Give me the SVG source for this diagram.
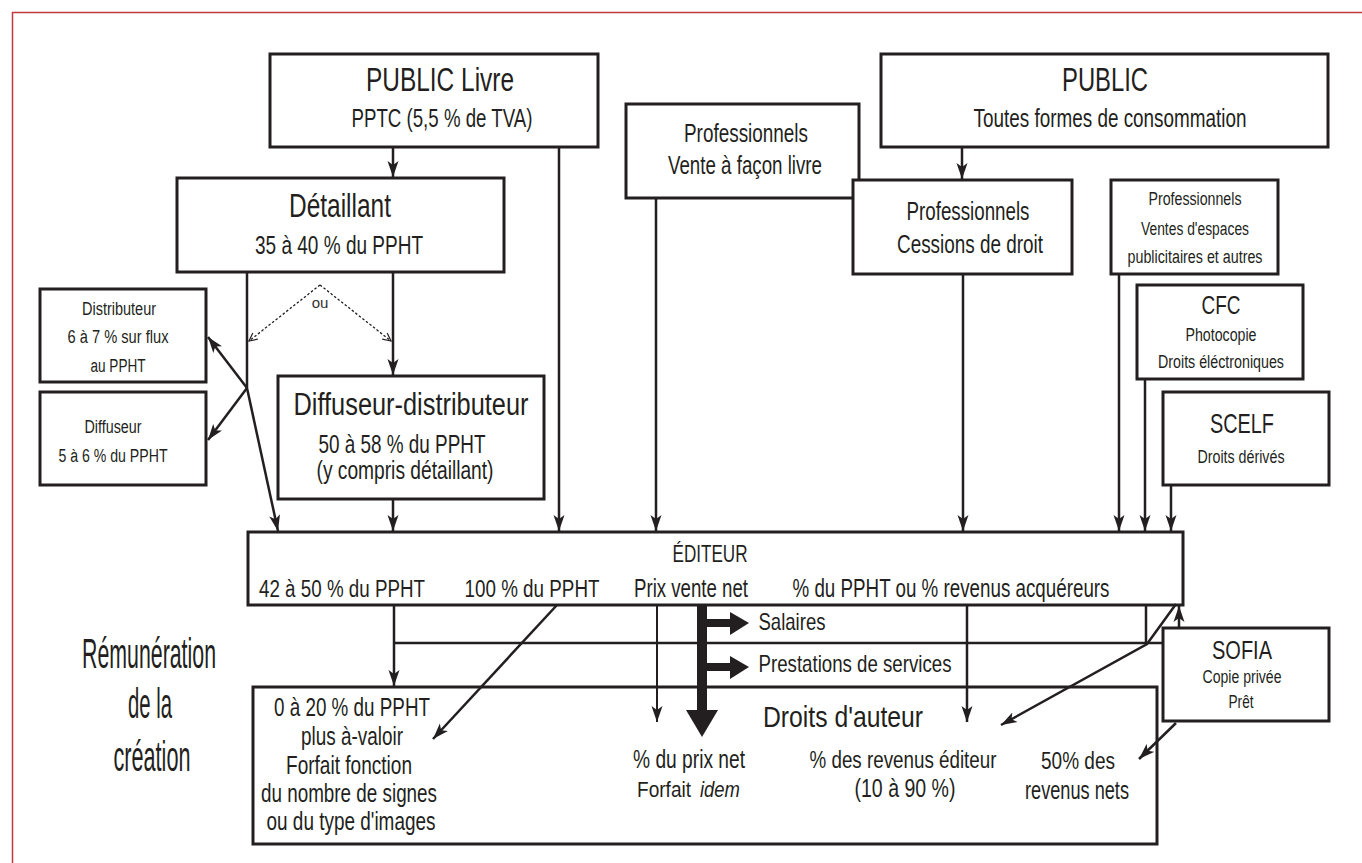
<svg xmlns="http://www.w3.org/2000/svg" width="1362" height="863" viewBox="0 0 1362 863">
<style>
.box{fill:#fff;stroke:#231f20;stroke-width:3}
.ln{fill:none;stroke:#231f20;stroke-width:2.5}
.thin{fill:none;stroke:#231f20;stroke-width:2}
.dot{fill:none;stroke:#231f20;stroke-width:1.3;stroke-dasharray:2.5,2}
.solid{fill:#231f20}
text{font-family:"Liberation Sans",Arial,sans-serif;fill:#231f20;text-anchor:middle}
.f33{font-size:33px}
.f31{font-size:31px}
.f29{font-size:29px}
.f42{font-size:42px}
.f25{font-size:25px}
.f24{font-size:24px}
.f23{font-size:23.5px}
.f22{font-size:22.5px}
.f18{font-size:18px}
.f26{font-size:26px}
.f28{font-size:28px}
.f14{font-size:15px;fill:#333}
</style>
<defs>
<marker id="ah" markerUnits="userSpaceOnUse" markerWidth="17" markerHeight="12" refX="16" refY="6" orient="auto">
<path d="M0,0.5 L16,6 L0,11.5 L4,6 z" fill="#231f20"/>
</marker>
<marker id="ahs" markerUnits="userSpaceOnUse" markerWidth="10" markerHeight="10" refX="9" refY="5" orient="auto">
<path d="M1,1 L9,5 L1,9" fill="none" stroke="#231f20" stroke-width="1.2"/>
</marker>
</defs>
<rect width="1362" height="863" fill="#fff"/>
<path d="M12.5,863 V12.5 H1362" fill="none" stroke="#c0393d" stroke-width="1.5"/>

<g id="public-livre">
<rect class="box" x="270" y="54" width="328" height="93"/>
<text class="f33" x="440" y="91" textLength="148" lengthAdjust="spacingAndGlyphs">PUBLIC Livre</text>
<text class="f25" x="442" y="127" textLength="181" lengthAdjust="spacingAndGlyphs">PPTC (5,5 % de TVA)</text>
</g>
<g id="detaillant">
<rect class="box" x="177" y="178" width="327" height="94"/>
<text class="f33" x="340" y="217" textLength="102" lengthAdjust="spacingAndGlyphs">Détaillant</text>
<text class="f25" x="339" y="254" textLength="168" lengthAdjust="spacingAndGlyphs">35 à 40 % du PPHT</text>
</g>
<g id="pro-facon">
<rect class="box" x="626" y="104" width="233" height="94"/>
<text class="f25" x="746" y="142" textLength="124" lengthAdjust="spacingAndGlyphs">Professionnels</text>
<text class="f25" x="745" y="174" textLength="154" lengthAdjust="spacingAndGlyphs">Vente à façon livre</text>
</g>
<g id="public">
<rect class="box" x="881" y="54" width="447" height="93"/>
<text class="f33" x="1105" y="91" textLength="86" lengthAdjust="spacingAndGlyphs">PUBLIC</text>
<text class="f25" x="1110" y="127" textLength="273" lengthAdjust="spacingAndGlyphs">Toutes formes de consommation</text>
</g>
<g id="pro-cessions">
<rect class="box" x="853" y="180" width="219" height="94"/>
<text class="f25" x="968" y="220" textLength="123" lengthAdjust="spacingAndGlyphs">Professionnels</text>
<text class="f25" x="970" y="253" textLength="146" lengthAdjust="spacingAndGlyphs">Cessions de droit</text>
</g>
<g id="pro-espaces">
<rect class="box" x="1111" y="180" width="167" height="94"/>
<text class="f18" x="1195" y="205" textLength="93" lengthAdjust="spacingAndGlyphs">Professionnels</text>
<text class="f18" x="1195" y="235" textLength="108" lengthAdjust="spacingAndGlyphs">Ventes d'espaces</text>
<text class="f18" x="1195" y="263" textLength="135" lengthAdjust="spacingAndGlyphs">publicitaires et autres</text>
</g>
<g id="cfc">
<rect class="box" x="1137" y="285" width="166" height="94"/>
<text class="f26" x="1221" y="314" textLength="39" lengthAdjust="spacingAndGlyphs">CFC</text>
<text class="f18" x="1221" y="341" textLength="71" lengthAdjust="spacingAndGlyphs">Photocopie</text>
<text class="f18" x="1221" y="368" textLength="126" lengthAdjust="spacingAndGlyphs">Droits éléctroniques</text>
</g>
<g id="scelf">
<rect class="box" x="1163" y="392" width="166" height="93"/>
<text class="f28" x="1242" y="433" textLength="64" lengthAdjust="spacingAndGlyphs">SCELF</text>
<text class="f18" x="1241" y="463" textLength="87" lengthAdjust="spacingAndGlyphs">Droits dérivés</text>
</g>
<g id="distributeur">
<rect class="box" x="40" y="289" width="166" height="93"/>
<text class="f18" x="119" y="315" textLength="74" lengthAdjust="spacingAndGlyphs">Distributeur</text>
<text class="f18" x="118" y="343" textLength="101" lengthAdjust="spacingAndGlyphs">6 à 7 % sur flux</text>
<text class="f18" x="118" y="372" textLength="55" lengthAdjust="spacingAndGlyphs">au PPHT</text>
</g>
<g id="diffuseur">
<rect class="box" x="40" y="392" width="166" height="93"/>
<text class="f18" x="113" y="433" textLength="57" lengthAdjust="spacingAndGlyphs">Diffuseur</text>
<text class="f18" x="113" y="462" textLength="109" lengthAdjust="spacingAndGlyphs">5 à 6 % du PPHT</text>
</g>
<g id="diffuseur-distributeur">
<rect class="box" x="278" y="376" width="266" height="123"/>
<text class="f31" x="411" y="415" textLength="235" lengthAdjust="spacingAndGlyphs">Diffuseur-distributeur</text>
<text class="f25" x="402" y="453" textLength="167" lengthAdjust="spacingAndGlyphs">50 à 58 % du PPHT</text>
<text class="f25" x="405" y="479" textLength="177" lengthAdjust="spacingAndGlyphs">(y compris détaillant)</text>
</g>
<g id="editeur">
<rect class="box" x="248" y="532" width="935" height="73"/>
<text class="f24" x="710" y="562" textLength="75" lengthAdjust="spacingAndGlyphs">ÉDITEUR</text>
<text class="f23" x="342" y="597" textLength="166" lengthAdjust="spacingAndGlyphs">42 à 50 % du PPHT</text>
<text class="f23" x="532" y="597" textLength="135" lengthAdjust="spacingAndGlyphs">100 % du PPHT</text>
<text class="f25" x="691" y="597" textLength="114" lengthAdjust="spacingAndGlyphs">Prix vente net</text>
<text class="f25" x="951" y="597" textLength="317" lengthAdjust="spacingAndGlyphs">% du PPHT ou % revenus acquéreurs</text>
</g>
<g id="droits-auteur">
<rect class="box" x="253" y="687" width="904" height="157"/>
<text class="f29" x="843" y="727" textLength="160" lengthAdjust="spacingAndGlyphs">Droits d'auteur</text>
<text class="f25" x="352" y="716" textLength="156" lengthAdjust="spacingAndGlyphs">0 à 20 % du PPHT</text>
<text class="f25" x="352" y="745" textLength="102" lengthAdjust="spacingAndGlyphs">plus à-valoir</text>
<text class="f25" x="349" y="774" textLength="126" lengthAdjust="spacingAndGlyphs">Forfait fonction</text>
<text class="f25" x="349" y="802" textLength="176" lengthAdjust="spacingAndGlyphs">du nombre de signes</text>
<text class="f25" x="351" y="830" textLength="169" lengthAdjust="spacingAndGlyphs">ou du type d'images</text>
<text class="f25" x="689" y="768" textLength="112" lengthAdjust="spacingAndGlyphs">% du prix net</text>
<text class="f22" x="664" y="797" textLength="54" lengthAdjust="spacingAndGlyphs">Forfait</text>
<text class="f22" x="720" y="797" textLength="40" lengthAdjust="spacingAndGlyphs" font-style="italic">idem</text>
<text class="f23" x="903" y="768" textLength="187" lengthAdjust="spacingAndGlyphs">% des revenus éditeur</text>
<text class="f25" x="905" y="797" textLength="101" lengthAdjust="spacingAndGlyphs">(10 à 90 %)</text>
<text class="f23" x="1078" y="769" textLength="74" lengthAdjust="spacingAndGlyphs">50% des</text>
<text class="f25" x="1077" y="799" textLength="104" lengthAdjust="spacingAndGlyphs">revenus nets</text>
</g>
<g id="sofia">
<rect class="box" x="1163" y="628" width="166" height="93"/>
<text class="f26" x="1242" y="659" textLength="60" lengthAdjust="spacingAndGlyphs">SOFIA</text>
<text class="f18" x="1242" y="683" textLength="79" lengthAdjust="spacingAndGlyphs">Copie privée</text>
<text class="f18" x="1241" y="708" textLength="25" lengthAdjust="spacingAndGlyphs">Prêt</text>
</g>
<g id="remuneration">
<text class="f42" x="149" y="668" textLength="134" lengthAdjust="spacingAndGlyphs">Rémunération</text>
<text class="f42" x="150" y="718" textLength="44" lengthAdjust="spacingAndGlyphs">de la</text>
<text class="f42" x="152" y="771" textLength="77" lengthAdjust="spacingAndGlyphs">création</text>
</g>

<g id="connectors">
<path class="ln" d="M393,147 V177" marker-end="url(#ah)"/>
<path class="ln" d="M559,147 V531" marker-end="url(#ah)"/>
<path class="ln" d="M656,198 V531" marker-end="url(#ah)"/>
<path class="ln" d="M962,147 V179" marker-end="url(#ah)"/>
<path class="ln" d="M963,274 V531" marker-end="url(#ah)"/>
<path class="ln" d="M1119,274 V531" marker-end="url(#ah)"/>
<path class="ln" d="M1145,379 V531" marker-end="url(#ah)"/>
<path class="ln" d="M1171,485 V531" marker-end="url(#ah)"/>
<path class="ln" d="M393,272 V375" marker-end="url(#ah)"/>
<path class="ln" d="M393,499 V531" marker-end="url(#ah)"/>
<path class="ln" d="M247,272 V388"/>
<path class="ln" d="M247,388 L208,337" marker-end="url(#ah)"/>
<path class="ln" d="M247,388 L208,440" marker-end="url(#ah)"/>
<path class="ln" d="M247,388 L278,531" marker-end="url(#ah)"/>
<path class="dot" d="M320,285 L249,341" marker-end="url(#ahs)"/>
<path class="dot" d="M320,285 L391,341" marker-end="url(#ahs)"/>
<text class="f14" x="320" y="308">ou</text>
<path class="ln" d="M394,605 V686" marker-end="url(#ah)"/>
<path class="ln" d="M394,643 H1163"/>
<path class="ln" d="M1146,605 V643"/>
<path class="ln" d="M557,605 L433,739" marker-end="url(#ah)"/>
<path class="thin" d="M657,605 V722" marker-end="url(#ah)"/>
<path class="ln" d="M967,605 V722" marker-end="url(#ah)"/>
<path class="ln" d="M1176,604 L1147,644 L1001,725" marker-end="url(#ah)"/>
<path class="ln" d="M1179,628 V606" marker-end="url(#ah)"/>
<path class="ln" d="M1176,723 L1139,759" marker-end="url(#ah)"/>
<rect class="solid" x="697" y="605" width="10" height="106"/>
<polygon class="solid" points="686,710 718,710 702,737"/>
<rect class="solid" x="706" y="619" width="25" height="8"/>
<polygon class="solid" points="730,612 749,623 730,635"/>
<rect class="solid" x="706" y="663" width="25" height="8"/>
<polygon class="solid" points="730,656 749,667 730,679"/>
<text class="f24" x="792" y="630" textLength="67" lengthAdjust="spacingAndGlyphs">Salaires</text>
<text class="f24" x="855" y="672" textLength="193" lengthAdjust="spacingAndGlyphs">Prestations de services</text>
</g>
</svg>
